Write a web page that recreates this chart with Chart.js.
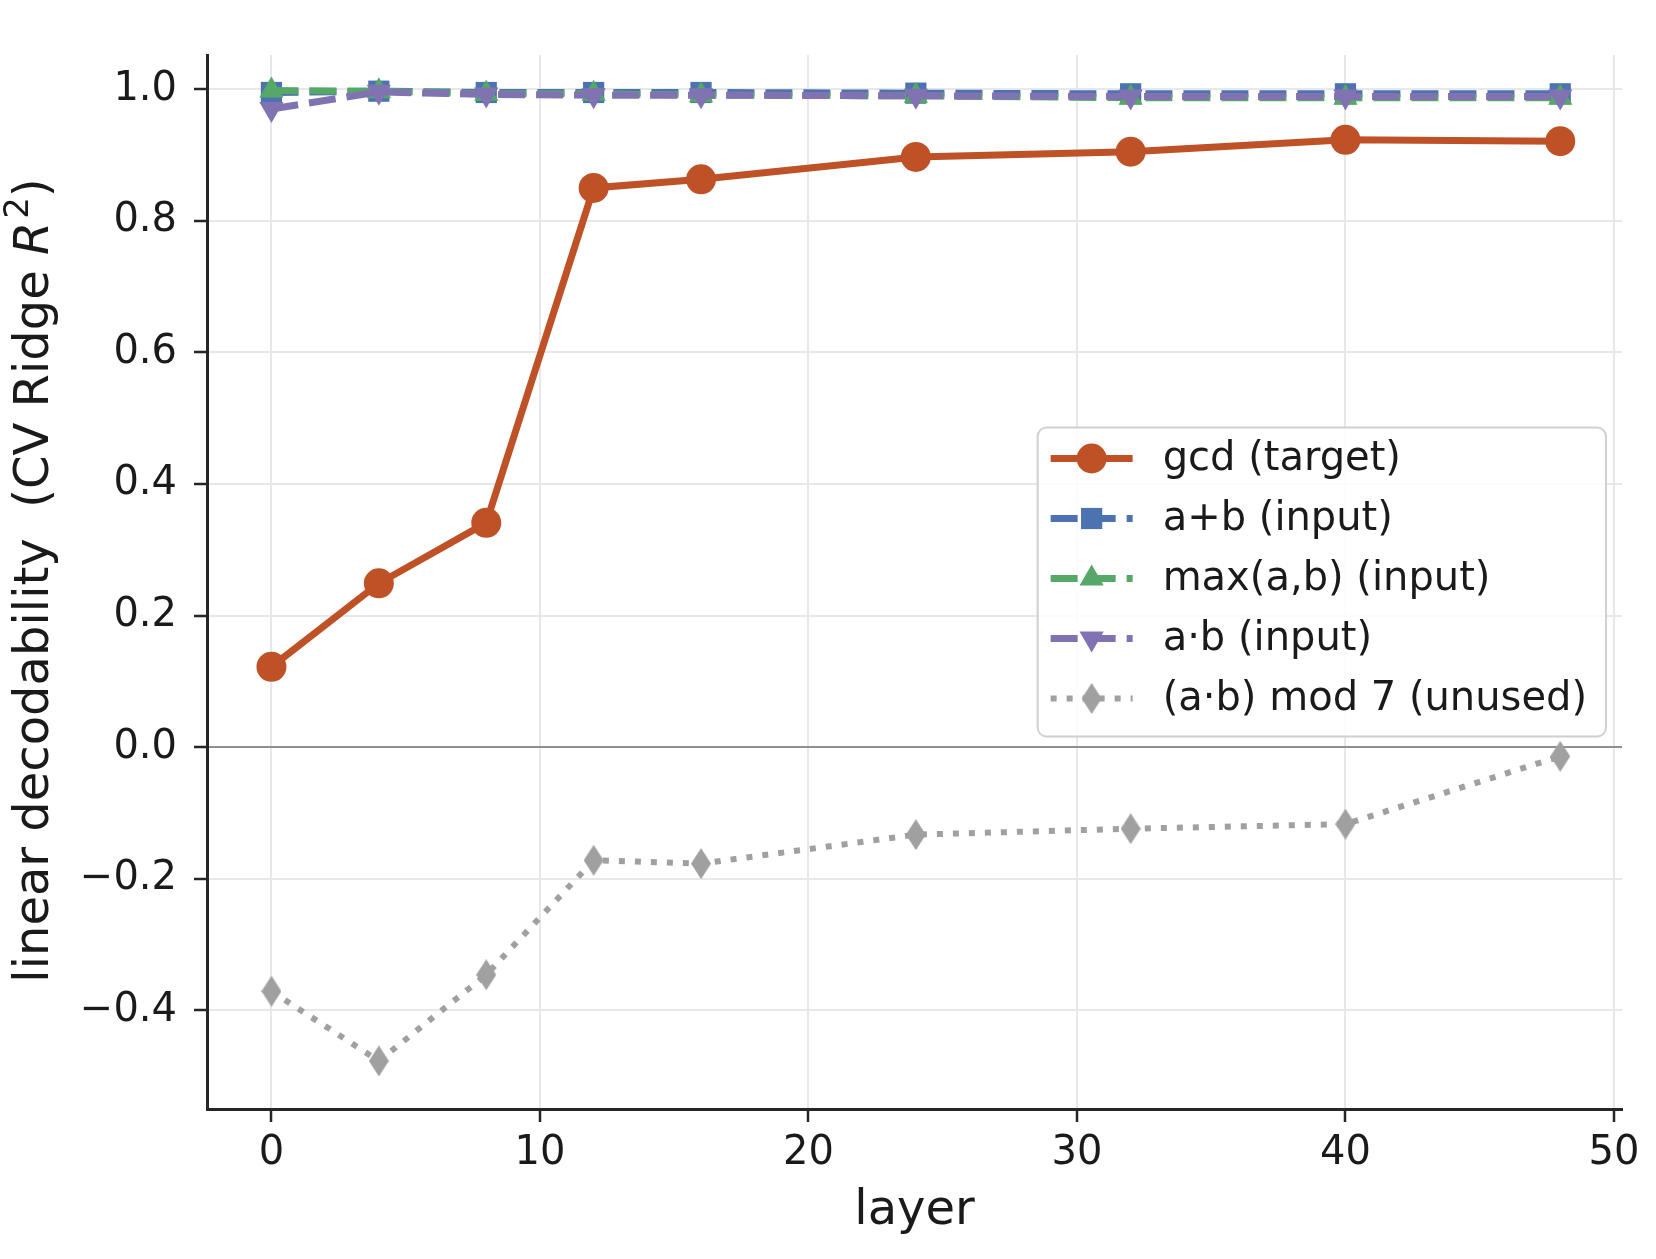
<!DOCTYPE html>
<html>
<head>
<meta charset="utf-8">
<title>linear decodability by layer</title>
<script src="https://cdn.jsdelivr.net/npm/chart.js@4.4.1/dist/chart.umd.min.js"></script>
<style>
  html, body { margin: 0; padding: 0; background: #fff; }
  #wrap { width: 1656px; height: 1259px; }
</style>
</head>
<body>
<div id="wrap"><canvas id="probe" width="1656" height="1259"></canvas></div>
<script>
/* ── Data ─────────────────────────────────────────────────── */
const layers = [0, 4, 8, 12, 16, 24, 32, 40, 48];
const gcdR2  = [0.122, 0.249, 0.341, 0.850, 0.863, 0.897, 0.905, 0.923, 0.921];
const sumR2  = [0.995, 0.997, 0.995, 0.995, 0.995, 0.994, 0.993, 0.993, 0.993];
const maxR2  = [0.998, 0.997, 0.993, 0.993, 0.991, 0.990, 0.987, 0.987, 0.987];
const prodR2 = [0.970, 0.996, 0.992, 0.991, 0.991, 0.990, 0.989, 0.989, 0.989];
const mod7R2 = [-0.371, -0.477, -0.346, -0.172, -0.177, -0.133, -0.124, -0.117, -0.014];

const seriesNames = ['gcd (target)', 'a+b (input)', 'max(a,b) (input)', 'a·b (input)', '(a·b) mod 7 (unused)'];
const xTicks = [0, 10, 20, 30, 40, 50];
const yTicks = [-0.4, -0.2, 0.0, 0.2, 0.4, 0.6, 0.8, 1.0];

/* ── Style ────────────────────────────────────────────────── */
const FONT = '"DejaVu Sans", "Liberation Sans", sans-serif';
const INK = '#1a1a1a';
const COL = { gcd: '#bf5127', sum: '#4c72b0', max: '#55a868', prod: '#8172b2', mod7: '#a0a0a0' };

/* thin diamond marker (matplotlib 'd') */
function thinDiamond(w, h, color) {
  const c = document.createElement('canvas');
  c.width = w; c.height = h;
  const g = c.getContext('2d');
  g.fillStyle = color;
  g.beginPath();
  g.moveTo(w / 2, 0); g.lineTo(w, h / 2); g.lineTo(w / 2, h); g.lineTo(0, h / 2);
  g.closePath();
  g.fill();
  return c;
}
const diamond = thinDiamond(20, 31, COL.mod7);

const toXY = vals => layers.map((l, i) => ({ x: l, y: vals[i] }));

function series(label, vals, color, extra) {
  return Object.assign({
    label, data: toXY(vals),
    borderColor: color, backgroundColor: color,
    pointBackgroundColor: color, pointBorderColor: color,
    borderWidth: 7, pointBorderWidth: 0,
    pointRadius: 15, pointHoverRadius: 15,
    borderCapStyle: 'butt', tension: 0
  }, extra);
}

/* ── Y title + in-axes legend ─────────────────────────────── */
const decor = {
  id: 'decor',
  afterDraw(chart) {
    const { ctx, chartArea: area } = chart;

    // y axis title with italic R and superscript 2
    const fs = 48;
    const parts = [
      ['linear decodability  (CV Ridge ', `${fs}px ${FONT}`, 0],
      ['R', `italic ${fs}px ${FONT}`, 0],
      ['2', `${Math.round(fs * 0.7)}px ${FONT}`, -fs * 0.36],
      [')', `${fs}px ${FONT}`, 0]
    ];
    ctx.save();
    ctx.translate(36, (area.top + area.bottom) / 2);
    ctx.rotate(-Math.PI / 2);
    ctx.fillStyle = INK;
    ctx.textBaseline = 'middle';
    ctx.textAlign = 'left';
    let total = 0;
    parts.forEach(p => { ctx.font = p[1]; total += ctx.measureText(p[0]).width; });
    let cx = -total / 2;
    parts.forEach(p => {
      ctx.font = p[1];
      ctx.fillText(p[0], cx, p[2]);
      cx += ctx.measureText(p[0]).width + (p[0] === 'R' ? 3 : 0);
    });
    ctx.restore();

    // legend, 'center right'
    const lf = 40, rowH = 60, handleLen = 82;
    ctx.save();
    ctx.font = `${lf}px ${FONT}`;
    const maxW = Math.max(...seriesNames.map(s => ctx.measureText(s).width));
    const boxW = 125 + maxW + 19;
    const boxH = seriesNames.length * rowH + 9;
    const bx = area.right - 16 - boxW;
    const by = (area.top + area.bottom) / 2 - boxH / 2;

    ctx.beginPath();
    ctx.roundRect(bx, by, boxW, boxH, 9);
    ctx.fillStyle = 'rgba(255,255,255,0.85)';
    ctx.fill();
    ctx.lineWidth = 2;
    ctx.strokeStyle = '#d0d0d0';
    ctx.stroke();

    chart.data.datasets.forEach((ds, i) => {
      const y = by + 31 + i * rowH;
      const x0 = bx + 13, x1 = x0 + handleLen;
      ctx.save();
      ctx.strokeStyle = ds.borderColor;
      ctx.lineWidth = ds.borderWidth;
      ctx.lineCap = 'butt';
      ctx.setLineDash(ds.borderDash || []);
      ctx.beginPath();
      ctx.moveTo(x0, y); ctx.lineTo(x1, y);
      ctx.stroke();
      ctx.setLineDash([]);
      ctx.fillStyle = ds.pointBackgroundColor;
      Chart.helpers.drawPoint(ctx, {
        pointStyle: ds.pointStyle, radius: ds.pointRadius,
        rotation: ds.pointRotation || 0, borderWidth: 0
      }, (x0 + x1) / 2, y);
      ctx.restore();

      ctx.fillStyle = INK;
      ctx.textBaseline = 'middle';
      ctx.textAlign = 'left';
      ctx.fillText(seriesNames[i], bx + 125, y + 1);
    });
    ctx.restore();
  }
};

/* ── Chart ────────────────────────────────────────────────── */
new Chart(document.getElementById('probe').getContext('2d'), {
  type: 'line',
  data: {
    datasets: [
      series(seriesNames[0], gcdR2, COL.gcd, { pointStyle: 'circle', order: 5 }),
      series(seriesNames[1], sumR2, COL.sum, { pointStyle: 'rect', borderDash: [27, 11], order: 4 }),
      series(seriesNames[2], maxR2, COL.max, { pointStyle: 'triangle', pointRadius: 14, borderDash: [27, 11], order: 3 }),
      series(seriesNames[3], prodR2, COL.prod, { pointStyle: 'triangle', pointRotation: 180, pointRadius: 14, borderDash: [27, 11], order: 2 }),
      series(seriesNames[4], mod7R2, COL.mod7, { pointStyle: diamond, borderWidth: 6, borderDash: [6, 10], order: 1 })
    ]
  },
  options: {
    responsive: false,
    animation: false,
    devicePixelRatio: 1,
    layout: { padding: { top: 55, right: 34, bottom: 0, left: 0 } },
    plugins: { legend: { display: false }, tooltip: { enabled: false } },
    scales: {
      x: {
        type: 'linear', min: -2.4, max: 50.3,
        afterBuildTicks: s => { s.ticks = xTicks.map(v => ({ value: v })); },
        afterFit: s => { s.height = 150; },
        grid: { color: '#e8e8e8', lineWidth: 2, tickLength: 13, tickColor: '#262626', tickWidth: 2.5 },
        border: { color: '#262626', width: 3 },
        ticks: { color: INK, font: { family: FONT, size: 40 }, padding: 8, maxRotation: 0,
                 callback: v => String(v) },
        title: { display: true, text: 'layer', color: INK, font: { family: FONT, size: 48 },
                 padding: { top: 0, bottom: 19 } }
      },
      y: {
        type: 'linear', min: -0.55, max: 1.052,
        afterBuildTicks: s => { s.ticks = yTicks.map(v => ({ value: v })); },
        afterFit: s => { s.width = 207; },
        grid: {
          color: c => (c.tick && Math.abs(c.tick.value) < 1e-9) ? '#8f8f8f' : '#e8e8e8',
          lineWidth: 2, tickLength: 13, tickColor: '#262626', tickWidth: 2.5
        },
        border: { color: '#262626', width: 3 },
        ticks: { color: INK, font: { family: FONT, size: 40 }, padding: 17,
                 callback: v => v.toFixed(1).replace('-', '\u2212') }
      }
    }
  },
  plugins: [decor]
});
</script>
</body>
</html>
